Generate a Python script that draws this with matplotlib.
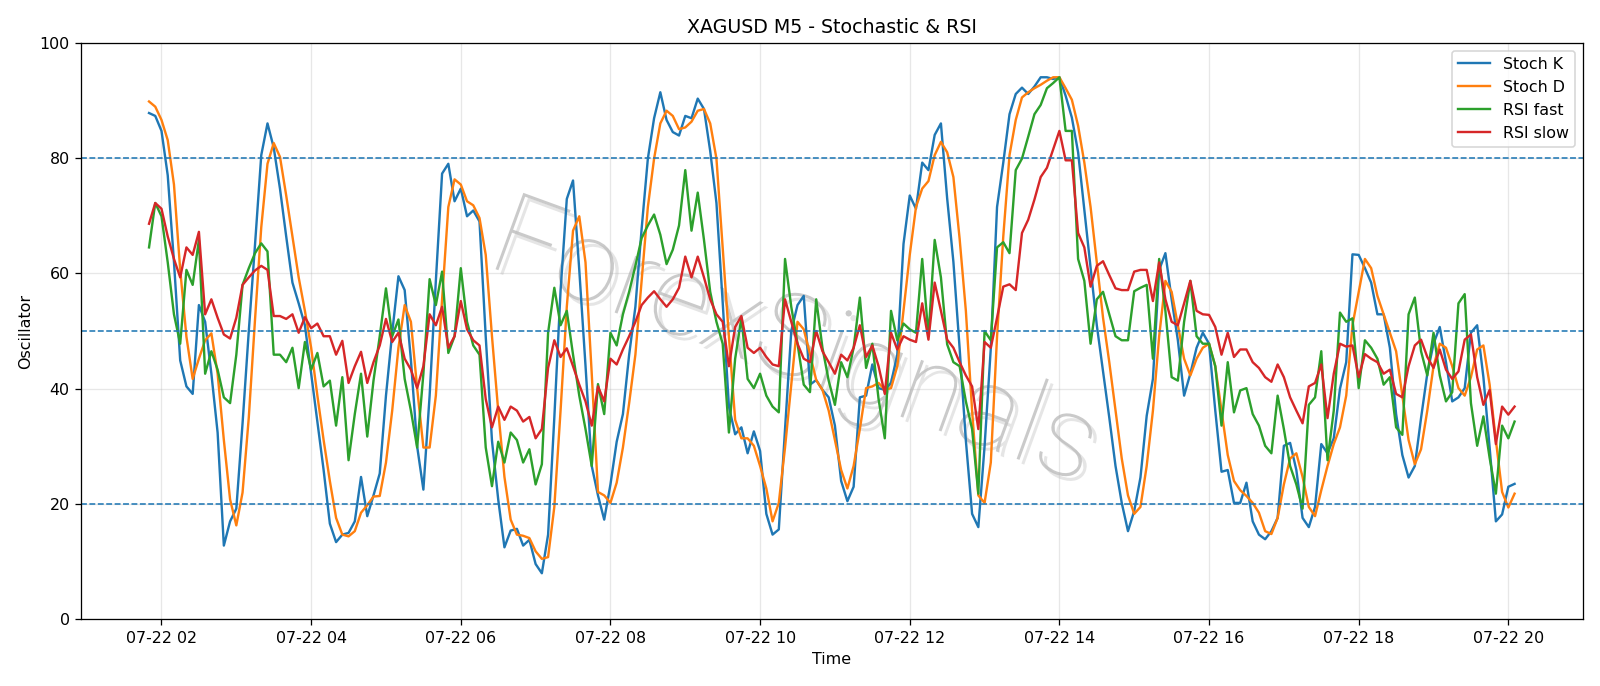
import pandas as pd
import matplotlib
matplotlib.use("Agg")
import matplotlib.pyplot as plt
import matplotlib.dates as mdates
import matplotlib.patheffects as pe

# 5-minute bars, 07-22 01:50 .. 20:05
times = pd.date_range("2025-07-22 01:50", periods=220, freq="5min")

stoch_k = [
    87.8, 87.3, 84.7, 77.0, 62.0, 44.9, 40.4, 39.1, 54.5, 51.6,
    42.6, 32.4, 12.8, 17.0, 19.2, 34.0, 50.0, 65.0, 80.5, 86.0,
    81.8, 74.7, 66.4, 58.4, 54.8, 51.0, 42.6, 34.3, 25.9, 16.6,
    13.4, 14.7, 15.0, 17.0, 24.7, 17.9, 21.5, 25.3, 38.8, 49.7,
    59.5, 57.1, 45.0, 30.0, 22.5, 38.8, 58.7, 77.3, 79.0, 72.5,
    74.7, 69.9, 70.9, 69.0, 49.0, 31.0, 20.8, 12.5, 15.4, 15.7,
    12.8, 13.8, 9.6, 8.0, 14.7, 35.0, 57.0, 72.9, 76.1, 60.6,
    44.0, 26.6, 21.5, 17.3, 23.4, 30.8, 35.6, 45.9, 54.2, 67.7,
    79.9, 86.9, 91.4, 86.6, 84.5, 83.9, 87.3, 86.9, 90.3, 88.5,
    81.2, 72.2, 55.0, 36.9, 32.1, 33.3, 28.8, 32.6, 29.2, 18.3,
    14.7, 15.6, 33.0, 50.0, 54.5, 56.1, 40.7, 41.5, 39.8, 38.5,
    33.6, 24.0, 20.5, 23.0, 38.5, 38.8, 44.2, 40.1, 39.8, 41.0,
    45.9, 65.1, 73.5, 71.2, 79.2, 77.9, 84.0, 86.0, 73.0, 62.0,
    47.0, 31.0, 18.3, 16.0, 30.0, 47.0, 71.5, 79.2, 87.6, 91.1,
    92.2, 91.1, 92.4, 94.0, 94.0, 93.7, 94.0, 90.8, 87.0, 81.0,
    71.0, 61.0, 51.0, 43.0, 35.0, 26.6, 20.2, 15.3, 18.8, 24.6,
    35.3, 41.7, 60.6, 63.5, 55.5, 48.4, 38.8, 42.6, 47.1, 49.7,
    47.8, 36.2, 25.6, 25.9, 20.2, 20.2, 23.7, 17.0, 14.7, 13.9,
    15.3, 17.6, 30.1, 30.6, 25.9, 17.6, 16.0, 19.5, 30.4, 28.8,
    31.4, 40.0, 44.6, 63.3, 63.2, 60.9, 58.4, 52.9, 52.9, 47.1,
    35.6, 28.5, 24.6, 26.6, 34.9, 42.6, 47.8, 50.7, 44.6, 37.8,
    38.5, 40.1, 49.7, 51.0, 42.0, 29.8, 17.0, 18.2, 23.0, 23.5,
]

stoch_d = [
    89.8, 88.9, 86.6, 83.1, 75.4, 60.6, 49.0, 41.7, 45.2, 48.4,
    49.6, 42.6, 31.1, 20.8, 16.3, 22.0, 35.0, 52.0, 68.0, 79.0,
    82.6, 80.2, 73.5, 66.4, 59.3, 53.5, 47.1, 38.8, 31.1, 24.0,
    17.6, 14.7, 14.4, 15.3, 18.5, 19.8, 21.3, 21.4, 27.2, 36.2,
    47.1, 54.5, 51.6, 40.1, 29.8, 29.8, 38.8, 55.5, 71.5, 76.3,
    75.4, 72.5, 71.8, 69.6, 63.2, 49.1, 36.2, 24.7, 17.3, 14.7,
    14.5, 14.1, 11.8, 10.5, 10.8, 19.5, 36.2, 54.2, 67.4, 69.9,
    61.9, 42.6, 22.1, 21.5, 20.2, 23.7, 29.8, 37.5, 45.9, 58.7,
    71.5, 79.9, 86.0, 88.2, 87.3, 85.0, 85.3, 86.3, 88.2, 88.5,
    86.0, 79.9, 64.5, 49.0, 34.6, 31.4, 31.4, 30.1, 26.6, 22.7,
    17.0, 20.2, 29.8, 40.7, 51.6, 50.3, 46.0, 41.5, 39.8, 36.2,
    31.1, 25.9, 22.7, 26.6, 33.0, 40.1, 40.4, 41.0, 39.8, 40.1,
    43.9, 53.5, 63.2, 71.5, 74.7, 76.0, 80.5, 82.8, 81.0, 76.7,
    66.0, 53.5, 36.2, 21.5, 20.2, 27.2, 49.0, 66.4, 80.5, 86.6,
    90.5, 91.4, 92.1, 92.7, 93.4, 94.0, 94.0, 92.1, 90.1, 85.6,
    79.2, 71.5, 61.9, 52.3, 44.6, 36.2, 27.9, 21.5, 18.3, 19.5,
    26.6, 36.2, 49.1, 58.7, 56.8, 51.0, 45.2, 42.3, 45.2, 47.1,
    47.8, 43.9, 36.2, 28.5, 24.0, 22.4, 21.4, 20.2, 18.5, 15.3,
    14.8, 17.6, 23.4, 27.9, 28.8, 24.7, 19.5, 17.9, 22.4, 26.6,
    30.4, 33.3, 38.8, 51.0, 56.8, 62.5, 60.9, 56.1, 52.9, 49.7,
    46.5, 38.8, 31.1, 26.9, 29.5, 36.2, 43.9, 47.8, 47.1, 43.9,
    40.1, 38.8, 42.0, 46.8, 47.5, 40.7, 31.1, 22.1, 19.4, 21.8,
]

rsi_fast = [
    64.5, 72.2, 69.9, 61.9, 52.9, 47.8, 60.6, 58.0, 65.8, 42.6,
    46.5, 43.3, 38.5, 37.5, 45.9, 58.0, 60.9, 63.5, 65.2, 63.8,
    45.9, 45.9, 44.6, 47.1, 40.1, 48.1, 43.3, 46.2, 40.4, 41.4,
    33.6, 42.0, 27.6, 35.6, 42.6, 31.7, 41.4, 49.1, 57.4, 49.1,
    52.0, 41.7, 36.2, 29.8, 42.6, 59.0, 54.5, 60.3, 46.2, 49.1,
    60.9, 51.6, 47.5, 45.9, 29.8, 23.1, 30.8, 27.2, 32.4, 31.1,
    27.2, 29.5, 23.4, 26.9, 49.7, 57.5, 51.0, 53.5, 45.9, 38.8,
    33.0, 26.6, 40.8, 35.6, 49.7, 47.5, 52.9, 56.8, 61.3, 66.1,
    68.3, 70.2, 66.7, 61.6, 64.1, 68.3, 77.9, 67.4, 74.0, 65.8,
    56.8, 51.6, 47.8, 32.4, 45.2, 52.3, 41.7, 40.1, 42.6, 38.8,
    36.9, 35.9, 62.5, 54.2, 47.8, 40.7, 39.4, 55.5, 47.1, 41.4,
    37.2, 44.6, 42.0, 47.1, 55.8, 43.6, 47.8, 38.2, 31.4, 53.5,
    48.4, 51.3, 50.3, 49.7, 62.5, 49.1, 65.8, 59.3, 47.7, 44.6,
    43.9, 37.8, 33.0, 21.8, 50.0, 48.4, 64.5, 65.4, 63.5, 77.9,
    79.9, 83.7, 87.6, 89.2, 92.1, 93.0, 94.0, 84.7, 84.7, 62.5,
    58.7, 47.8, 55.5, 56.8, 52.9, 49.1, 48.4, 48.4, 56.9, 57.5,
    58.0, 45.2, 62.5, 53.5, 42.0, 41.4, 51.6, 58.7, 49.1, 47.8,
    47.8, 43.9, 33.6, 44.6, 35.9, 39.7, 40.1, 35.6, 33.6, 30.1,
    28.8, 38.8, 33.0, 26.6, 23.4, 19.2, 37.2, 38.5, 46.5, 27.6,
    36.2, 53.2, 51.6, 52.2, 40.1, 48.4, 47.1, 45.2, 40.7, 42.0,
    33.3, 32.0, 52.9, 55.8, 46.5, 42.3, 49.7, 42.3, 37.8, 39.4,
    54.8, 56.4, 37.5, 30.1, 35.2, 28.0, 21.8, 33.6, 31.4, 34.3,
]

rsi_slow = [
    68.6, 72.2, 71.2, 66.4, 62.5, 59.3, 64.5, 63.2, 67.2, 52.9,
    55.5, 52.3, 49.4, 48.7, 52.3, 58.0, 59.3, 60.5, 61.3, 60.6,
    52.6, 52.6, 52.1, 52.9, 49.7, 52.4, 50.5, 51.3, 49.1, 49.1,
    45.9, 48.3, 41.0, 43.9, 46.4, 41.0, 44.6, 47.5, 52.1, 48.1,
    49.7, 45.2, 43.3, 40.1, 43.9, 52.9, 51.0, 54.2, 47.1, 49.1,
    55.2, 50.3, 48.4, 47.5, 38.2, 33.3, 36.9, 34.6, 36.9, 36.2,
    34.3, 35.1, 31.4, 33.0, 43.6, 48.4, 45.5, 47.0, 43.9, 40.7,
    37.8, 33.6, 40.4, 37.8, 45.2, 44.2, 46.8, 49.1, 51.6, 54.5,
    55.8, 56.9, 55.5, 54.2, 55.5, 57.5, 62.9, 59.3, 62.9, 59.3,
    55.5, 52.9, 51.6, 43.9, 50.7, 52.6, 47.1, 46.2, 47.1, 45.5,
    44.2, 43.9, 55.5, 51.6, 47.8, 45.2, 44.6, 50.0, 46.5, 44.6,
    42.6, 45.9, 44.9, 47.1, 51.0, 45.5, 47.5, 43.9, 39.1, 49.7,
    46.8, 49.1, 48.5, 48.1, 54.8, 48.5, 58.4, 53.5, 48.5, 47.1,
    44.6, 42.3, 40.4, 33.0, 48.1, 47.1, 52.3, 57.7, 58.1, 57.1,
    67.0, 69.3, 72.8, 76.7, 78.3, 81.5, 84.7, 79.6, 79.6, 67.0,
    64.5, 57.7, 61.3, 62.1, 59.7, 57.4, 57.1, 57.1, 60.3, 60.6,
    60.6, 55.2, 61.9, 55.5, 51.6, 51.0, 54.8, 58.7, 53.5, 52.9,
    52.8, 50.7, 45.9, 49.7, 45.5, 46.8, 46.8, 44.6, 43.6, 42.0,
    41.2, 44.2, 42.0, 38.5, 36.2, 34.0, 40.4, 41.0, 44.2, 34.9,
    42.6, 47.8, 47.3, 47.5, 42.0, 46.0, 45.2, 44.6, 42.6, 43.3,
    39.1, 38.5, 43.9, 47.5, 48.5, 45.5, 43.6, 46.8, 43.3, 41.7,
    43.0, 48.5, 49.4, 42.0, 37.2, 39.8, 30.4, 36.9, 35.5, 36.9,
]

levels = [20, 50, 80]

fig, ax = plt.subplots(figsize=(14, 6.0025))

ax.plot(times, stoch_k, label="Stoch K")
ax.plot(times, stoch_d, label="Stoch D")
ax.plot(times, rsi_fast, label="RSI fast")
ax.plot(times, rsi_slow, label="RSI slow")

for lv in levels:
    ax.axhline(lv, color="tab:blue", linestyle="--", linewidth=1)

ax.set_ylim(0, 100)
ax.xaxis.set_major_locator(mdates.HourLocator(interval=2))
ax.xaxis.set_major_formatter(mdates.DateFormatter("%m-%d %H"))
ax.grid(True, alpha=0.3)
ax.set_title("XAGUSD M5 - Stochastic & RSI")
ax.set_xlabel("Time")
ax.set_ylabel("Oscillator")
ax.legend(loc="upper right")

# watermark
ax.text(0.475, 0.475, "ForexSignals", transform=ax.transAxes,
        fontsize=72, family="Roboto", fontweight="light",
        color="#bdbdbd", alpha=0.8, rotation=-20,
        ha="center", va="center", zorder=0,
        path_effects=[pe.withSimplePatchShadow(offset=(3, -3), shadow_rgbFace="#cccccc", alpha=0.5)])

fig.tight_layout()
fig.savefig("out.png", dpi=1600 / 14)
